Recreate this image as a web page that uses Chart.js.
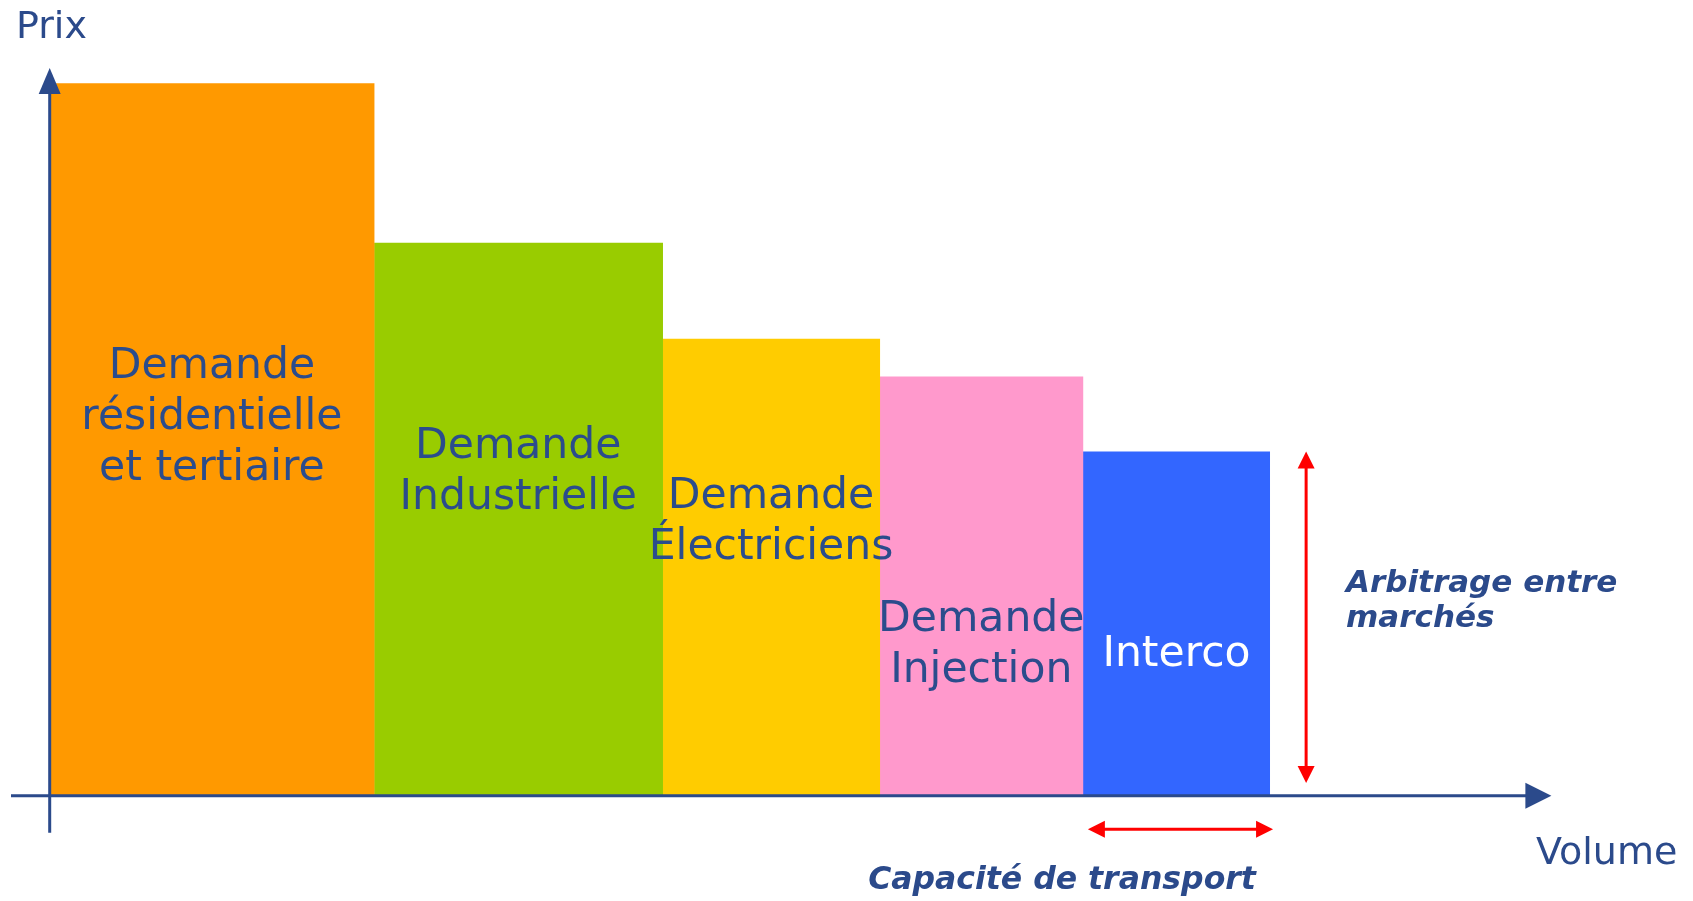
<!DOCTYPE html>
<html lang="fr">
<head>
<meta charset="utf-8">
<title>Prix / Volume</title>
<script src="https://cdn.jsdelivr.net/npm/chart.js@4/dist/chart.umd.min.js"></script>
<style>
    body { margin: 0; background: #ffffff; }
    canvas { display: block; }
</style>
</head>
<body>
<canvas id="graficoDemande" width="1693" height="901"></canvas>
<script>
const categories = [
    ['Demande', 'résidentielle', 'et tertiaire'],
    ['Demande', 'Industrielle'],
    ['Demande', 'Électriciens'],
    ['Demande', 'Injection'],
    ['Interco']
];
const volumes = [32.4, 28.8, 21.7, 20.3, 18.7];
const prix = [97.9, 76.0, 62.8, 57.6, 47.3];
const couleurs = ['#FF9900', '#99CC00', '#FFCC00', '#FF99CC', '#3366FF'];
const couleursTexte = ['#2B4C8C', '#2B4C8C', '#2B4C8C', '#2B4C8C', '#FFFFFF'];
// hauteur (en prix) de la première ligne de chaque étiquette
const etiquetteY = [57.4, 46.4, 39.6, 22.7, 17.8];

const axeX = { min: 0, max: 150 };
const axeY = { min: 0, max: 100 };

var bleuAxe = '#2B4A8B';
var rouge = '#FF0000';

// un rectangle par catégorie : deux points, rempli jusqu'à l'origine
// (léger recouvrement à droite pour éviter un filet blanc entre deux barres)
var recouvrement = 0.06;
var debut = 0;
var datasets = [];
for (var i = 0; i < volumes.length; i++) {
    var fin = debut + volumes[i] + (i < volumes.length - 1 ? recouvrement : 0);
    datasets.push({
        label: categories[i].join(' '),
        data: [{ x: debut, y: prix[i] }, { x: fin, y: prix[i] }],
        fill: 'origin',
        backgroundColor: couleurs[i],
        borderWidth: 0,
        pointRadius: 0,
        tension: 0
    });
    debut += volumes[i];
}

function fleche(ctx, x, y, angle, longueur, largeur, couleur) {
    ctx.save();
    ctx.translate(x, y);
    ctx.rotate(angle);
    ctx.fillStyle = couleur;
    ctx.beginPath();
    ctx.moveTo(0, 0);
    ctx.lineTo(-longueur, -largeur / 2);
    ctx.lineTo(-longueur, largeur / 2);
    ctx.closePath();
    ctx.fill();
    ctx.restore();
}

const schemaPlugin = {
    id: 'schema',
    afterDatasetsDraw(chart) {
        var ctx = chart.ctx;
        var sx = chart.scales.x;
        var sy = chart.scales.y;
        var x0 = sx.getPixelForValue(0);
        var y0 = sy.getPixelForValue(0);
        var xMax = sx.getPixelForValue(axeX.max);
        var yMax = sy.getPixelForValue(axeY.max);

        // étiquettes dans les barres
        ctx.save();
        ctx.font = '42.5px "DejaVu Sans"';
        ctx.textAlign = 'center';
        ctx.textBaseline = 'alphabetic';
        var pos = 0;
        for (var i = 0; i < categories.length; i++) {
            var cx = sx.getPixelForValue(pos + volumes[i] / 2);
            var yl = sy.getPixelForValue(etiquetteY[i]);
            ctx.fillStyle = couleursTexte[i];
            for (var j = 0; j < categories[i].length; j++) {
                ctx.fillText(categories[i][j], cx, yl + j * 51);
            }
            pos += volumes[i];
        }
        ctx.restore();

        // axes
        ctx.save();
        ctx.strokeStyle = bleuAxe;
        ctx.lineWidth = 3;
        ctx.beginPath();
        ctx.moveTo(11, y0);
        ctx.lineTo(xMax - 25, y0);
        ctx.moveTo(x0, y0 + 37);
        ctx.lineTo(x0, yMax + 25);
        ctx.stroke();
        fleche(ctx, xMax, y0, 0, 26, 26, bleuAxe);
        fleche(ctx, x0, yMax, -Math.PI / 2, 26, 22, bleuAxe);
        ctx.restore();

        // flèches rouges autour de l'interco
        var iInterco = volumes.length - 1;
        var debutInterco = 0;
        for (var k = 0; k < iInterco; k++) debutInterco += volumes[k];
        var finInterco = debutInterco + volumes[iInterco];

        ctx.save();
        ctx.strokeStyle = rouge;
        ctx.lineWidth = 3;
        var xv = sx.getPixelForValue(125.5);
        var yHaut = sy.getPixelForValue(prix[iInterco]);
        var yBas = sy.getPixelForValue(1.75);
        ctx.beginPath();
        ctx.moveTo(xv, yHaut + 15);
        ctx.lineTo(xv, yBas - 15);
        ctx.stroke();
        fleche(ctx, xv, yHaut, -Math.PI / 2, 17, 17, rouge);
        fleche(ctx, xv, yBas, Math.PI / 2, 17, 17, rouge);

        var yh = sy.getPixelForValue(-4.6);
        var xa = sx.getPixelForValue(debutInterco) + 5;
        var xb = sx.getPixelForValue(finInterco) + 3;
        ctx.beginPath();
        ctx.moveTo(xa + 15, yh);
        ctx.lineTo(xb - 15, yh);
        ctx.stroke();
        fleche(ctx, xa, yh, Math.PI, 17, 17, rouge);
        fleche(ctx, xb, yh, 0, 17, 17, rouge);
        ctx.restore();

        // titres des axes et commentaires
        ctx.save();
        ctx.fillStyle = bleuAxe;
        ctx.textAlign = 'left';
        ctx.font = '38px "DejaVu Sans"';
        ctx.fillText('Prix', 16, 38);
        ctx.fillText('Volume', 1536, 864);
        ctx.font = 'italic bold 31px "DejaVu Sans"';
        ctx.fillText('Arbitrage entre', 1346, 592);
        ctx.fillText('marchés', 1346, 627);
        ctx.textAlign = 'center';
        ctx.font = 'italic bold 31.5px "DejaVu Sans"';
        ctx.fillText('Capacité de transport', 1062, 889);
        ctx.restore();
    }
};

var configuracao = {
    type: 'line',
    data: { datasets: datasets },
    options: {
        responsive: false,
        devicePixelRatio: 1,
        animation: false,
        layout: {
            padding: { left: 49.7, right: 141.6, top: 68, bottom: 105.3 }
        },
        scales: {
            x: { type: 'linear', min: axeX.min, max: axeX.max, display: false },
            y: { type: 'linear', min: axeY.min, max: axeY.max, display: false }
        },
        plugins: {
            legend: { display: false },
            tooltip: { enabled: false }
        }
    },
    plugins: [schemaPlugin]
};

var graficoDemande = new Chart(document.getElementById('graficoDemande'), configuracao);
</script>
</body>
</html>
